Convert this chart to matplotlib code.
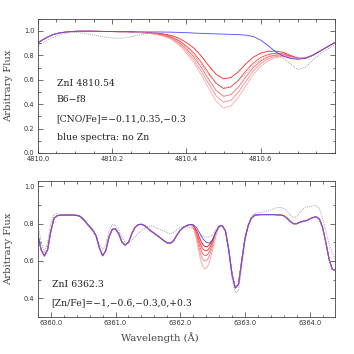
import numpy as np
import matplotlib
matplotlib.use('Agg')
import matplotlib.pyplot as plt
from matplotlib.ticker import MultipleLocator

# ---- top panel: Zn I 4810.54 ----
top_wave = 4810.0 + np.arange(41) * 0.02
top_blue = [0.904, 0.940, 0.970, 0.985, 0.993, 0.997, 0.998, 0.998, 0.997, 0.996,
            0.995, 0.994, 0.994, 0.993, 0.993, 0.992, 0.992, 0.991, 0.990, 0.988,
            0.986, 0.983, 0.980, 0.978, 0.976, 0.974, 0.972, 0.970, 0.966, 0.955,
            0.925, 0.880, 0.830, 0.795, 0.775, 0.768, 0.775, 0.800, 0.835, 0.870,
            0.905]
top_obs = [0.875, 0.915, 0.945, 0.970, 0.985, 0.988, 0.982, 0.972, 0.960, 0.950,
           0.943, 0.940, 0.945, 0.958, 0.972, 0.982, 0.980, 0.968, 0.948, 0.915,
           0.870, 0.805, 0.725, 0.640, 0.570, 0.535, 0.545, 0.590, 0.650, 0.715,
           0.765, 0.795, 0.805, 0.780, 0.730, 0.685, 0.700, 0.760, 0.810, 0.850,
           0.890]
# Zn line region (4810.26 - 4810.72), one curve per abundance
top_red_wave = 4810.26 + np.arange(24) * 0.02
top_red = [
    [0.990, 0.988, 0.985, 0.982, 0.975, 0.962, 0.940, 0.905, 0.860, 0.795, 0.715, 0.645,
     0.607, 0.618, 0.665, 0.730, 0.785, 0.818, 0.833, 0.835, 0.825, 0.800, 0.778, 0.778],
    [0.989, 0.987, 0.983, 0.978, 0.968, 0.951, 0.922, 0.877, 0.820, 0.744, 0.654, 0.572,
     0.528, 0.541, 0.596, 0.671, 0.737, 0.782, 0.807, 0.817, 0.813, 0.794, 0.775, 0.777],
    [0.989, 0.986, 0.982, 0.975, 0.963, 0.943, 0.907, 0.854, 0.788, 0.702, 0.604, 0.513,
     0.464, 0.478, 0.539, 0.622, 0.698, 0.753, 0.786, 0.802, 0.804, 0.789, 0.773, 0.776],
    [0.988, 0.986, 0.981, 0.972, 0.959, 0.936, 0.896, 0.837, 0.764, 0.671, 0.567, 0.469,
     0.416, 0.432, 0.497, 0.586, 0.669, 0.732, 0.771, 0.791, 0.797, 0.786, 0.772, 0.776],
    [0.988, 0.985, 0.980, 0.970, 0.955, 0.930, 0.885, 0.820, 0.740, 0.640, 0.530, 0.425,
     0.368, 0.385, 0.455, 0.550, 0.640, 0.710, 0.755, 0.780, 0.790, 0.782, 0.770, 0.775],
]

# ---- bottom panel: Zn I 6362.3 ----
bot_wave = 6359.80 + np.arange(93) * 0.05
bot_blue = [0.740, 0.660, 0.627, 0.660, 0.760, 0.830, 0.843, 0.846, 0.847, 0.847,
            0.847, 0.846, 0.845, 0.840, 0.825, 0.805, 0.785, 0.765, 0.735, 0.670,
            0.628, 0.655, 0.730, 0.770, 0.772, 0.745, 0.700, 0.685, 0.700, 0.745,
            0.780, 0.795, 0.797, 0.790, 0.775, 0.760, 0.748, 0.735, 0.722, 0.708,
            0.697, 0.695, 0.710, 0.740, 0.765, 0.780, 0.790, 0.796, 0.795, 0.780,
            0.750, 0.720, 0.700, 0.695, 0.715, 0.755, 0.785, 0.790, 0.760, 0.660,
            0.530, 0.455, 0.475, 0.600, 0.720, 0.790, 0.830, 0.845, 0.848, 0.849,
            0.849, 0.849, 0.849, 0.849, 0.848, 0.847, 0.843, 0.830, 0.812, 0.800,
            0.800, 0.808, 0.813, 0.817, 0.825, 0.833, 0.837, 0.825, 0.780, 0.700,
            0.610, 0.555, 0.550]
bot_obs = [0.800, 0.700, 0.645, 0.700, 0.800, 0.850, 0.855, 0.847, 0.843, 0.843,
           0.845, 0.845, 0.843, 0.838, 0.822, 0.800, 0.780, 0.760, 0.730, 0.690,
           0.660, 0.690, 0.760, 0.795, 0.792, 0.765, 0.725, 0.700, 0.697, 0.710,
           0.730, 0.748, 0.763, 0.775, 0.785, 0.788, 0.783, 0.775, 0.767, 0.760,
           0.752, 0.746, 0.755, 0.770, 0.780, 0.785, 0.783, 0.780, 0.775, 0.760,
           0.742, 0.732, 0.728, 0.728, 0.740, 0.770, 0.790, 0.790, 0.755, 0.640,
           0.500, 0.430, 0.440, 0.560, 0.700, 0.790, 0.840, 0.855, 0.858, 0.860,
           0.863, 0.868, 0.875, 0.882, 0.887, 0.888, 0.883, 0.868, 0.845, 0.832,
           0.838, 0.860, 0.880, 0.890, 0.893, 0.897, 0.898, 0.880, 0.830, 0.760,
           0.690, 0.640, 0.610]
# [Zn/Fe] = -1, -0.6, -0.3, 0, +0.3 over 6362.150 - 6362.650
bot_red_wave = 6362.15 + np.arange(21) * 0.025
bot_red = [
    [0.796, 0.795, 0.790, 0.780, 0.765, 0.745, 0.723, 0.703, 0.688, 0.679, 0.676,
     0.679, 0.686, 0.697, 0.712, 0.733, 0.754, 0.771, 0.784, 0.791, 0.790],
    [0.796, 0.794, 0.786, 0.772, 0.752, 0.728, 0.702, 0.680, 0.665, 0.657, 0.655,
     0.659, 0.669, 0.684, 0.703, 0.727, 0.751, 0.770, 0.784, 0.791, 0.790],
    [0.796, 0.793, 0.783, 0.765, 0.740, 0.710, 0.680, 0.655, 0.638, 0.630, 0.630,
     0.636, 0.649, 0.668, 0.692, 0.720, 0.747, 0.768, 0.783, 0.790, 0.790],
    [0.796, 0.792, 0.780, 0.758, 0.728, 0.693, 0.658, 0.628, 0.609, 0.601, 0.602,
     0.610, 0.627, 0.651, 0.680, 0.712, 0.742, 0.766, 0.782, 0.790, 0.790],
    [0.796, 0.791, 0.776, 0.750, 0.714, 0.672, 0.630, 0.594, 0.570, 0.559, 0.561,
     0.572, 0.594, 0.624, 0.660, 0.699, 0.735, 0.762, 0.780, 0.789, 0.790],
]

red_colors = ['#ff2020', '#ff4444', '#ff6666', '#ff8888', '#ffa8a8']
serif = 'DejaVu Serif'


def full_red(wave, blue, red_wave, red):
    # red curves follow the no-Zn spectrum outside the line region
    left = wave < red_wave[0] - 1e-6
    right = wave > red_wave[-1] + 1e-6
    x = np.concatenate([wave[left], red_wave, wave[right]])
    y = np.concatenate([np.array(blue)[left], red, np.array(blue)[right]])
    return x, y


def style_axes(ax, xmaj, xmin, ymaj, ymin):
    ax.xaxis.set_major_locator(MultipleLocator(xmaj))
    ax.xaxis.set_minor_locator(MultipleLocator(xmin))
    ax.yaxis.set_major_locator(MultipleLocator(ymaj))
    ax.yaxis.set_minor_locator(MultipleLocator(ymin))
    ax.tick_params(which='both', direction='in', top=True, right=True,
                   labelsize=4.8, width=0.5, colors='#333333')
    ax.tick_params(which='major', length=3.5, pad=2.5)
    ax.tick_params(which='minor', length=1.8)
    for sp in ax.spines.values():
        sp.set_linewidth(0.6)
        sp.set_color('#444444')
    ax.set_ylabel('Arbitrary Flux', family=serif, fontsize=7.2, color='#444444')
    ax.yaxis.set_label_coords(-0.085, 0.5)


fig = plt.figure(figsize=(3.54, 3.54), dpi=100)

ax1 = fig.add_axes([0.107, 0.568, 0.839, 0.379])
for vals, col in zip(top_red, red_colors):
    x, y = full_red(top_wave, top_blue, top_red_wave, vals)
    ax1.plot(x, y, color=col, lw=0.6)
ax1.plot(top_wave, top_obs, color='#777777', lw=0.55, ls=(0, (1, 1.6)))
ax1.plot(top_wave, top_blue, color='#2a2aff', lw=0.65, alpha=0.8)
ax1.set_xlim(4810.0, 4810.8)
ax1.set_ylim(0.0, 1.1)
style_axes(ax1, 0.2, 0.05, 0.2, 0.1)
ax1.xaxis.set_major_formatter(matplotlib.ticker.FormatStrFormatter('%.1f'))
ax1.set_xticks([4810.0, 4810.2, 4810.4, 4810.6])
for txt, yy in [('ZnI 4810.54', 0.52), ('B6\u2212f8', 0.40),
                ('[CNO/Fe]=\u22120.11,0.35,\u22120.3', 0.255),
                ('blue spectra: no Zn', 0.117)]:
    ax1.text(0.063, yy, txt, transform=ax1.transAxes, family=serif,
             fontsize=6.7, va='center', color='#222222')

ax2 = fig.add_axes([0.107, 0.105, 0.839, 0.384])
for vals, col in zip(bot_red, red_colors):
    x, y = full_red(bot_wave, bot_blue, bot_red_wave, vals)
    ax2.plot(x, y, color=col, lw=0.7)
ax2.plot(bot_wave, bot_obs, color='#777777', lw=0.55, ls=(0, (1, 1.6)))
ax2.plot(bot_wave, bot_blue, color='#2a2aff', lw=0.75, alpha=0.72)
ax2.set_xlim(6359.8, 6364.39)
ax2.set_ylim(0.3, 1.03)
style_axes(ax2, 1.0, 0.2, 0.2, 0.1)
ax2.xaxis.set_major_formatter(matplotlib.ticker.FormatStrFormatter('%.1f'))
ax2.set_xlabel('Wavelength (\u00c5)', family=serif, fontsize=7.2, color='#444444')
ax2.xaxis.set_label_coords(0.41, -0.11)
ax2.text(0.046, 0.235, 'ZnI 6362.3', transform=ax2.transAxes, family=serif,
         fontsize=6.7, va='center', color='#222222')
ax2.text(0.046, 0.10, '[Zn/Fe]=\u22121,\u22120.6,\u22120.3,0,+0.3',
         transform=ax2.transAxes, family=serif, fontsize=6.7, va='center',
         color='#222222')

fig.savefig('out.png', dpi=100)
